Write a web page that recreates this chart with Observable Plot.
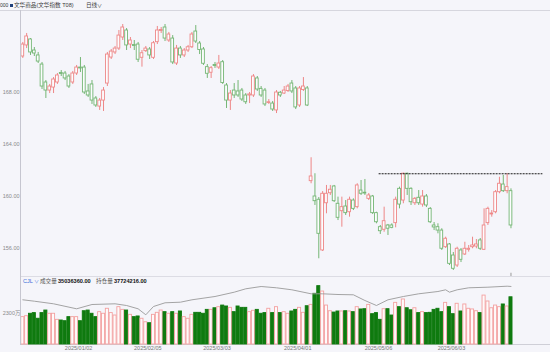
<!DOCTYPE html>
<html><head><meta charset="utf-8">
<script src="https://cdn.jsdelivr.net/npm/d3@7"></script>
<script src="https://cdn.jsdelivr.net/npm/@observablehq/plot@0.6"></script>
<style>
html,body{margin:0;padding:0;background:#f5f5fa;}
#wrap{position:relative;width:550px;height:352px;overflow:hidden;background:#f5f5fa;font-family:"Liberation Sans","Noto Sans CJK SC",sans-serif;}
.abs{position:absolute;white-space:nowrap;}
.t{font-size:5.6px;line-height:10px;color:#3a3a3a;}
.h{font-size:5.6px;line-height:7px;}
svg{display:block;}
</style></head>
<body><div id="wrap">
<div class="abs t" style="left:0;top:0;color:#333;font-size:5px;">000</div>
<div class="abs" style="left:10px;top:3.5px;width:3px;height:3px;background:#1f3f7a"></div>
<div class="abs t" style="left:14px;top:0;">文华商品(文华指数 T08)</div>
<div class="abs t" style="left:86px;top:0;">日线</div>
<div class="abs t" style="left:97px;top:0;font-size:5px;">∨</div>
<div class="abs" style="left:0;top:9.5px;width:550px;height:1px;background:#d6d6de"></div>
<div class="abs" style="left:21px;top:276px;width:529px;height:1px;background:#dcdce4"></div>
<div class="abs" style="left:21px;top:344px;width:529px;height:1px;background:#cfcfd7"></div>
<div id="price" class="abs" style="left:0;top:10px;"></div>
<div id="vol" class="abs" style="left:0;top:277px;"></div>
<div id="oi" class="abs" style="left:0;top:277px;"></div>
<div class="abs h" style="left:23px;top:278px;color:#3c6fd8;">CJL <span style="font-size:4.6px">∨</span></div>
<div class="abs h" style="left:40px;top:278px;color:#555;">成交量</div>
<div class="abs h" style="left:58px;top:278px;color:#111;font-weight:bold;">35036360.00</div>
<div class="abs h" style="left:96px;top:278px;color:#555;">持仓量</div>
<div class="abs h" style="left:114px;top:278px;color:#111;font-weight:bold;">37724216.00</div>
<div class="abs" style="left:20px;top:10px;width:1.4px;height:335px;background:#c6c6d0"></div>
</div>
<script>
// ---- data (daily candles, index 0..127) ----
const open = [170.77,171.62,172.08,171.23,170.85,170.15,168.77,168.15,168.38,168.77,169.5,169.46,169.23,168.77,169.46,169.92,169.92,168.08,168.62,167.54,166.92,167.38,168.69,170.69,171.08,171.38,172.23,172.77,171.69,171.65,171.69,170.67,171.18,171.31,170.67,171.87,172.73,173.0,172.0,172.15,170.23,171.38,170.85,171.23,171.48,172.69,171.77,171.31,169.95,169.52,170.12,169.92,170.33,168.54,167.38,168.15,168.08,168.15,167.77,167.77,167.77,169.08,168.28,168.15,167.19,167.15,166.62,167.98,167.92,168.12,168.69,168.31,167.0,168.19,168.31,
161.18,160.0,159.75,155.85,159.48,160.25,160.77,159.44,158.87,159.23,158.79,159.69,159.18,160.46,160.29,159.82,160.0,158.72,157.64,157.44,157.77,157.77,157.95,160.59,159.69,161.75,160.59,159.48,159.9,159.38,160.0,159.05,157.77,157.64,157.38,156.1,156.31,155.46,154.69,155.85,155.54,155.9,156.1,156.15,156.62,155.9,157.95,158.62,158.79,160.33,160.92,160.41,160.41];
const high = [171.85,172.54,172.15,171.46,171.08,170.31,168.92,168.62,169.15,169.46,169.69,169.62,169.38,169.62,170.08,170.69,170.08,168.62,168.92,167.69,167.54,168.38,171.08,171.31,171.54,172.77,173.23,172.92,172.23,172.0,171.85,171.23,171.54,171.46,171.92,173.08,173.0,173.23,172.62,172.38,171.62,171.54,171.38,171.62,172.62,173.15,171.92,171.46,170.15,170.0,170.31,170.85,170.46,168.69,168.15,168.69,168.92,168.31,167.92,168.0,169.38,169.23,168.46,168.31,167.46,167.31,168.15,168.08,168.46,168.62,168.92,168.46,168.46,169.15,168.46,
162.98,161.75,159.92,160.38,160.85,160.85,160.85,159.95,159.95,159.69,159.95,159.82,160.98,161.23,161.31,160.23,160.08,158.79,157.77,159.18,157.85,157.9,159.95,160.72,161.8,161.8,160.67,159.92,160.46,160.46,160.15,159.15,158.0,157.9,157.52,156.87,156.38,155.69,156.1,156.0,156.48,156.23,156.87,156.69,156.77,159.05,159.18,158.92,160.46,161.48,161.62,161.77,160.59];
const low = [170.62,171.38,170.85,170.77,170.23,168.23,167.54,167.92,167.92,168.62,169.23,168.92,168.31,168.62,169.31,169.54,167.85,167.62,167.08,166.85,166.62,166.54,168.46,170.54,170.92,171.23,172.0,171.23,171.38,171.23,170.31,169.95,171.08,170.54,170.54,171.69,172.54,171.92,171.85,170.15,170.08,170.62,170.69,171.08,171.38,171.77,170.92,170.08,169.08,169.08,169.85,169.77,168.62,166.77,166.62,167.54,167.62,167.31,167.08,167.15,167.62,168.08,167.62,166.92,167.08,166.54,166.38,167.62,167.85,168.0,167.92,166.69,166.85,168.08,166.92,
160.98,159.31,155.21,155.77,158.67,160.08,159.54,158.15,157.64,158.54,158.41,158.92,159.05,160.08,160.08,159.69,158.62,157.9,157.08,157.25,157.0,157.52,157.59,159.05,159.44,160.08,159.31,159.31,159.31,159.18,159.15,157.92,157.38,157.13,155.85,156.0,154.69,154.31,154.54,154.92,155.46,155.72,155.98,155.98,155.85,155.85,157.77,158.41,158.67,160.21,160.31,160.21,157.52];
const close = [171.69,172.31,171.08,171.0,170.38,168.46,168.15,168.46,169.0,169.31,169.42,169.08,168.46,169.46,169.92,169.85,168.0,167.77,167.38,167.0,167.38,168.15,170.92,171.15,171.38,172.38,173.0,171.62,172.0,171.58,170.52,171.02,171.38,170.85,171.79,172.77,172.81,172.15,172.46,170.31,171.38,170.85,171.23,171.48,172.46,171.92,171.27,170.21,169.44,169.87,170.04,170.23,168.73,167.38,167.92,167.77,167.77,167.46,167.25,167.85,169.23,168.23,167.77,167.08,167.25,166.69,168.0,167.77,168.15,168.46,168.08,166.85,168.31,168.46,167.0,
161.54,159.64,157.13,160.21,160.21,160.52,159.64,158.36,159.18,158.72,159.75,159.05,160.85,160.21,160.23,160.08,158.72,158.02,157.33,158.1,157.52,157.59,159.75,159.38,161.75,160.59,159.56,159.82,159.48,160.0,159.31,158.02,157.62,157.38,155.98,156.75,154.82,154.44,155.98,155.13,155.98,155.98,156.23,156.31,155.98,157.77,159.05,158.69,160.33,160.98,160.41,160.72,157.77];
// 成交量 in 万
const volume = [2030,2100,2280,2330,1910,2330,2520,2280,2280,1830,1780,1730,2030,2030,2030,1730,2470,2520,2280,2030,2400,2280,2650,2330,2150,2770,2570,2520,2200,2030,2080,1910,1650,1580,2200,2350,2520,2400,2280,2400,2280,2450,2030,1910,2200,2350,2350,2280,2570,2570,2690,2770,2890,2820,2720,2400,2820,2720,2720,2400,2500,2570,2280,2330,2650,2330,2770,2330,2400,2280,2450,2570,2720,2350,2840,
2940,3760,4330,3930,2890,2470,2370,2450,2450,2470,2450,2400,2770,2600,2620,2940,2250,2330,1830,2620,2620,2150,3090,2770,3340,2690,2540,2690,2330,2400,2330,2350,2570,2650,2400,3090,2770,2250,3020,2450,2970,2650,2600,2470,2330,3630,3190,2690,2890,2770,2970,2820,3503.636];
// 持仓量 in 万 (read at sample points)
const oiIdx = [0,3,8,14,18,24,27,30,32,34,37,41,44,50,55,58,62,66,70,75,78,82,86,89,92,95,99,103,108,110,111,113,116,121,126,127];
const oiVal = [3506,3478,3426,3326,3412,3426,3392,3326,3206,3372,3446,3458,3506,3572,3658,3726,3772,3746,3706,3626,3626,3612,3606,3492,3392,3506,3572,3626,3672,3706,3658,3706,3746,3758,3778,3772.4216];
const priceTicks = [156,160,164,168];
const volTicks = [2300];
const dateTickIdx = [14,32,50,71,92,111];
const dateTickLabels = ["2025/01/02","2025/02/05","2025/03/03","2025/04/01","2025/05/06","2025/06/03"];
const resistance = [{level:161.75, from:92.7, to:135.3}];
const lastIdx = [127];

// ---- drawing ----
const UP = "#ee8787", DOWN = "#74b674";
const candles = open.map((o,i)=>({i, open:o, high:high[i], low:low[i], close:close[i], vol:volume[i], up: close[i] >= o}));
const xDomain = [-0.338, 137.28];
const font = "'Liberation Sans','Noto Sans CJK SC',sans-serif";
const baseStyle = {background:"transparent", fontFamily:font, overflow:"visible"};

const priceDomain = [153.846, 174.308];
const price = Plot.plot({
  width:550, height:266, marginLeft:21, marginRight:0, marginTop:0, marginBottom:0,
  style:baseStyle,
  x:{domain:xDomain, axis:null},
  y:{domain:priceDomain, axis:null},
  color:{type:"identity"},
  marks:[
    Plot.axisY({ticks:priceTicks, tickFormat:d=>d.toFixed(2), tickSize:0, tickPadding:2, fontSize:5.5, color:"#8a8a8a", label:null}),
    Plot.ruleX(candles, {x:"i", y1:"low", y2:"high", stroke:d=>d.up?UP:DOWN, strokeWidth:1}),
    Plot.rect(candles, {x1:d=>d.i-0.36, x2:d=>d.i+0.36, y1:"open", y2:"close", fill:"#fdfdff", stroke:d=>d.up?UP:DOWN, strokeWidth:0.9}),
    Plot.ruleY(resistance, {y:"level", x1:"from", x2:"to", stroke:"#1a1a1a", strokeDasharray:"2,1", strokeWidth:1}),
    Plot.ruleX(lastIdx, {x:d=>d, y1:priceDomain[0], y2:priceDomain[0]+0.25, stroke:"#9a9a9a", strokeWidth:1})
  ]
});
document.getElementById("price").appendChild(price);

const vol = Plot.plot({
  width:550, height:75, marginLeft:21, marginRight:0, marginTop:0, marginBottom:8,
  style:baseStyle,
  x:{domain:xDomain, axis:null},
  y:{domain:[0,4971], axis:null},
  color:{type:"identity"},
  marks:[
    Plot.rect(candles, {x1:d=>d.i-0.4, x2:d=>d.i+0.4, y1:0, y2:"vol", fill:d=>d.up?"#fefafa":"#0f7a0f", stroke:d=>d.up?"#f3a0a0":"#0f7a0f", strokeWidth:0.9}),
    Plot.axisY({ticks:volTicks, tickFormat:d=>d+"万", tickSize:0, tickPadding:1, fontSize:5.5, color:"#8a8a8a", label:null}),
    Plot.axisX({ticks:dateTickIdx, tickFormat:d=>dateTickLabels[dateTickIdx.indexOf(d)], tickSize:0, tickPadding:2, fontSize:5.5, color:"#777", dx:2, label:null})
  ]
});
document.getElementById("vol").appendChild(vol);

const oiData = oiIdx.map((x,k)=>({x, v:oiVal[k]}));
const oi = Plot.plot({
  width:550, height:75, marginLeft:21, marginRight:0, marginTop:0, marginBottom:8,
  style:baseStyle,
  x:{domain:xDomain, axis:null},
  y:{domain:[2612,3952], axis:null},
  marks:[
    Plot.line(oiData, {x:"x", y:"v", stroke:"#9a9a9a", strokeWidth:0.9})
  ]
});
document.getElementById("oi").appendChild(oi);
</script>
</body></html>
